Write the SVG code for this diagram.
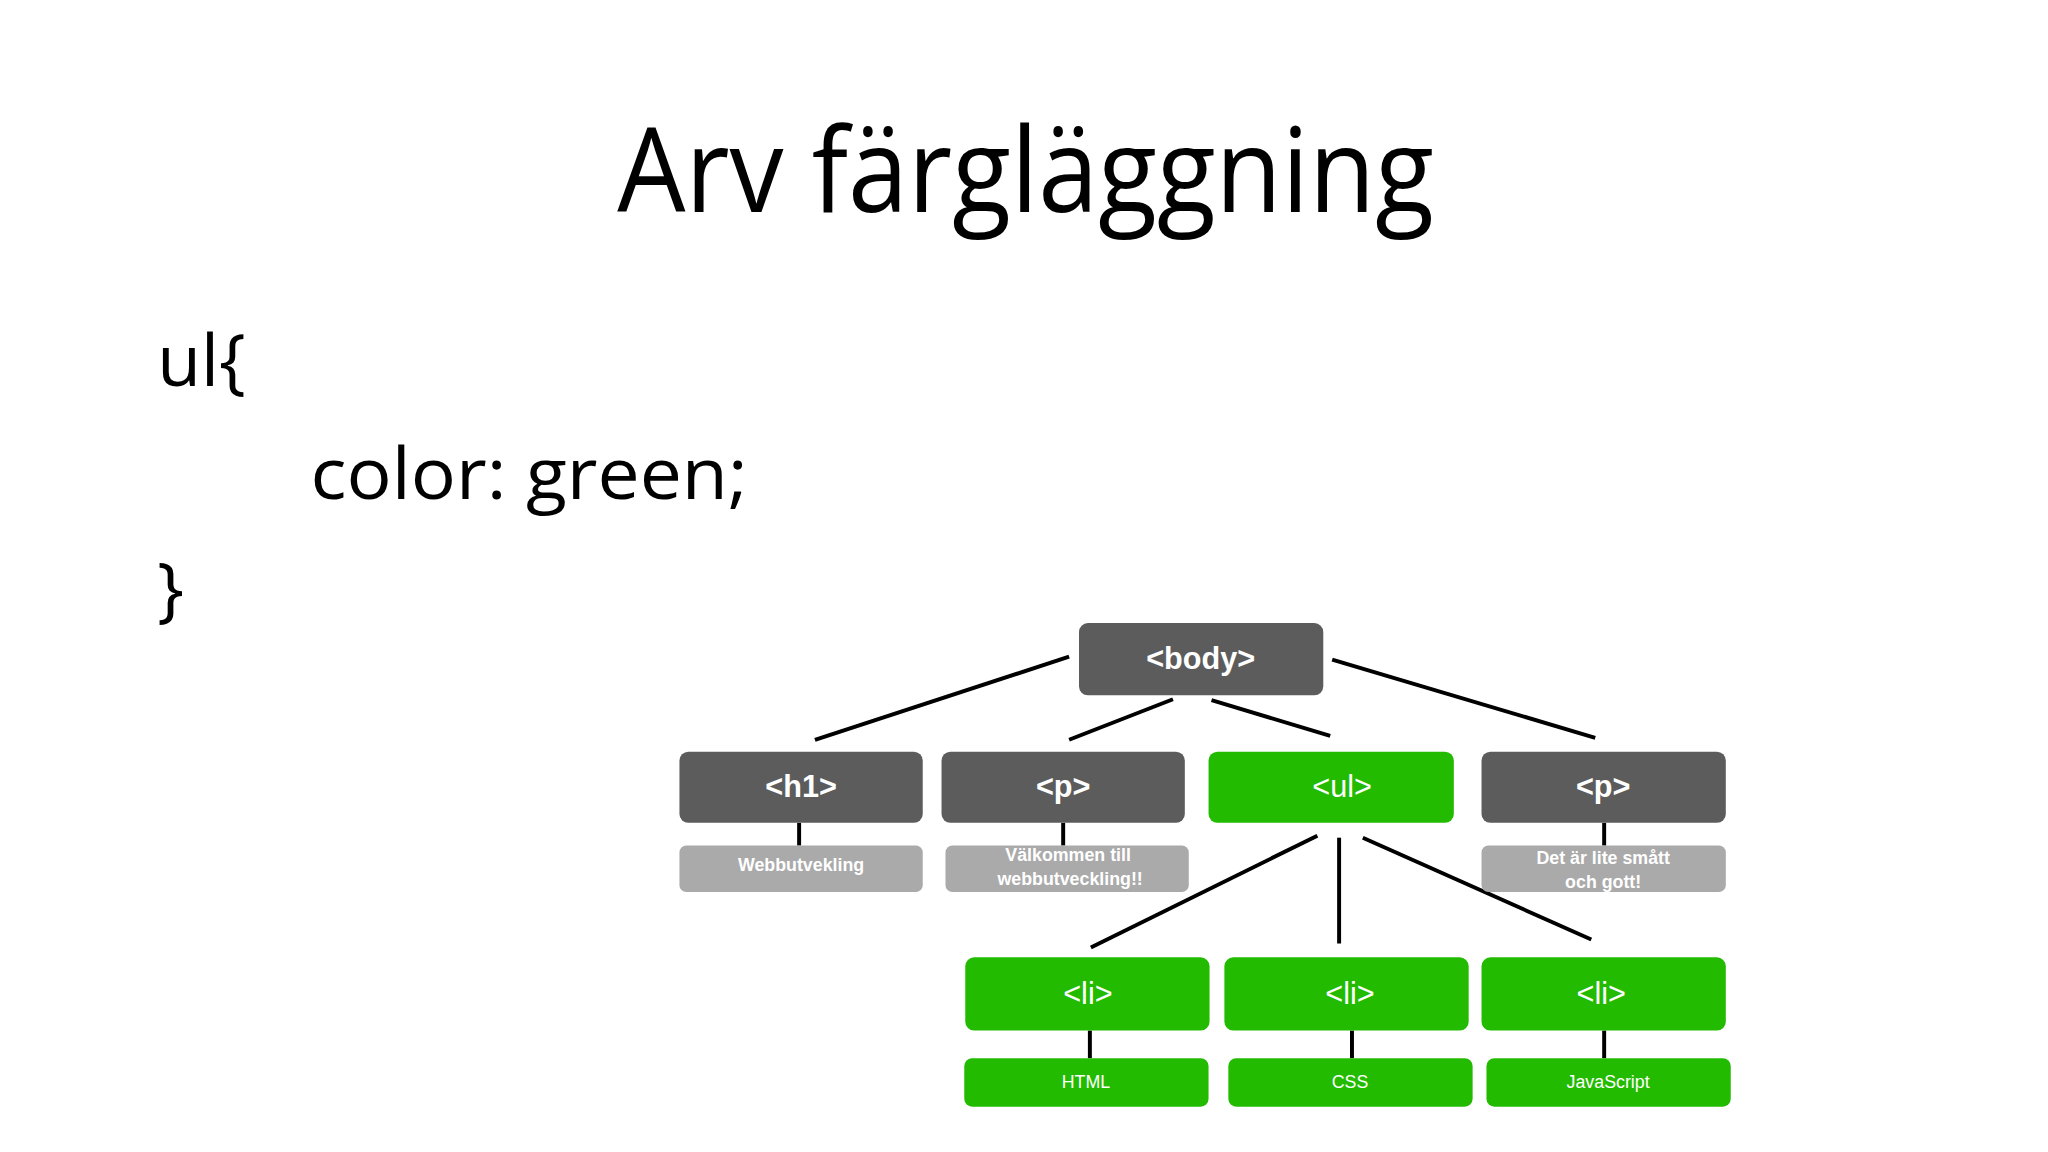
<svg xmlns="http://www.w3.org/2000/svg" width="2048" height="1152" viewBox="0 0 2048 1152">
<style>
.t{font-family:"Open Sans","Liberation Sans",sans-serif;fill:#000}
.d{fill:#5c5c5c}.g{fill:#22bb00}.l{fill:#aaaaaa}
.n{font-family:"Liberation Sans",Arial,sans-serif;fill:#fff;text-anchor:middle;font-weight:bold}
.r{font-weight:normal}
.big{font-size:31px}.sm{font-size:18px}
#c line{stroke:#000;stroke-width:4}
</style>
<rect width="2048" height="1152" fill="#fff"/>
<g transform="scale(0.989)">
<text class="t" x="1037" y="214" font-size="118" text-anchor="middle" textLength="826" lengthAdjust="spacingAndGlyphs">Arv färgläggning</text>
<text class="t" x="159" y="390" font-size="72">ul{</text>
<text class="t" x="314" y="505" font-size="72" textLength="442" lengthAdjust="spacingAndGlyphs">color: green;</text>
<text class="t" x="159" y="621" font-size="72">}</text>
<g id="c">
<line x1="1081" y1="664" x2="824" y2="748"/>
<line x1="1186" y1="707" x2="1081" y2="748"/>
<line x1="1225" y1="708" x2="1345" y2="744"/>
<line x1="1347" y1="667" x2="1613" y2="746"/>
<line x1="808" y1="832" x2="808" y2="855"/>
<line x1="1075" y1="832" x2="1075" y2="855"/>
<line x1="1622" y1="832" x2="1622" y2="855"/>
<line x1="1332" y1="845" x2="1103" y2="958"/>
<line x1="1354" y1="847" x2="1354" y2="954"/>
<line x1="1378" y1="847" x2="1609" y2="950"/>
<line x1="1102" y1="1042" x2="1102" y2="1070"/>
<line x1="1367" y1="1042" x2="1367" y2="1070"/>
<line x1="1622" y1="1042" x2="1622" y2="1070"/>
</g>
<g id="body"><rect class="d" x="1091" y="630" width="247" height="73" rx="9"/><text class="n big" x="1214" y="676">&lt;body&gt;</text></g>
<g id="h1"><rect class="d" x="687" y="760" width="246" height="72" rx="9"/><text class="n big" x="810" y="806">&lt;h1&gt;</text></g>
<g id="p1"><rect class="d" x="952" y="760" width="246" height="72" rx="9"/><text class="n big" x="1075" y="806">&lt;p&gt;</text></g>
<g id="ul"><rect class="g" x="1222" y="760" width="248" height="72" rx="9"/><text class="n big r" x="1357" y="806">&lt;ul&gt;</text></g>
<g id="p2"><rect class="d" x="1498" y="760" width="247" height="72" rx="9"/><text class="n big" x="1621" y="806">&lt;p&gt;</text></g>
<g id="t1"><rect class="l" x="687" y="855" width="246" height="47" rx="7"/><text class="n sm" x="810" y="881">Webbutvekling</text></g>
<g id="t2"><rect class="l" x="956" y="855" width="246" height="47" rx="7"/><text class="n sm" x="1080" y="871">Välkommen till</text><text class="n sm" x="1082" y="895">webbutveckling!!</text></g>
<g id="t3"><rect class="l" x="1498" y="855" width="247" height="47" rx="7"/><text class="n sm" x="1621" y="874">Det är lite smått</text><text class="n sm" x="1621" y="898">och gott!</text></g>
<g id="li1"><rect class="g" x="976" y="968" width="247" height="74" rx="9"/><text class="n big r" x="1100" y="1015">&lt;li&gt;</text></g>
<g id="li2"><rect class="g" x="1238" y="968" width="247" height="74" rx="9"/><text class="n big r" x="1365" y="1015">&lt;li&gt;</text></g>
<g id="li3"><rect class="g" x="1498" y="968" width="247" height="74" rx="9"/><text class="n big r" x="1619" y="1015">&lt;li&gt;</text></g>
<g id="html"><rect class="g" x="975" y="1070" width="247" height="49" rx="8"/><text class="n sm r" x="1098" y="1100">HTML</text></g>
<g id="css"><rect class="g" x="1242" y="1070" width="247" height="49" rx="8"/><text class="n sm r" x="1365" y="1100">CSS</text></g>
<g id="js"><rect class="g" x="1503" y="1070" width="247" height="49" rx="8"/><text class="n sm r" x="1626" y="1100">JavaScript</text></g>
</g>
</svg>
